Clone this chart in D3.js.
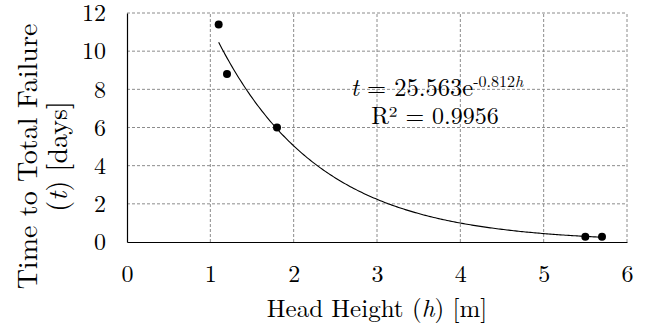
<!DOCTYPE html>
<html><head><meta charset="utf-8">
<script src="https://cdn.jsdelivr.net/npm/d3@7"></script>
<style>body{margin:0;background:#fff}svg{display:block}text{font-family:"Latin Modern Roman","CMU Serif","Liberation Serif","DejaVu Serif",serif;fill:#000}</style>
</head><body><svg id="c" width="647" height="329"></svg>
<script>
const headHeight = [1.1, 1.2, 1.8, 5.5, 5.7];
const failureDays = [11.4, 8.8, 6.0, 0.28, 0.28];
const xTicks = [0,1,2,3,4,5,6];
const yTicks = [0,2,4,6,8,10,12];
const fitA = 25.563, fitB = -0.812;
const fitRange = [1.1, 5.7];

const svg = d3.select("#c");
const m = {l:127, r:20, t:13, b:87};
const W = 647, H = 329;
const x = d3.scaleLinear().domain([0,6]).range([m.l, W-m.r]);
const y = d3.scaleLinear().domain([0,12]).range([H-m.b, m.t]);

const g = svg.append("g");
g.selectAll(".vg").data(xTicks.slice(1)).join("line")
 .attr("x1",d=>x(d)).attr("x2",d=>x(d)).attr("y1",y(0)).attr("y2",y(12))
 .attr("stroke","#8c8c8c").attr("stroke-width",1).attr("stroke-dasharray","3,2");
g.selectAll(".hg").data(yTicks.slice(1)).join("line")
 .attr("x1",x(0)).attr("x2",x(6)).attr("y1",d=>y(d)).attr("y2",d=>y(d))
 .attr("stroke","#8c8c8c").attr("stroke-width",1).attr("stroke-dasharray","3,2");

const xa = svg.append("g").attr("transform",`translate(0,${y(0)})`)
 .call(d3.axisBottom(x).tickValues(xTicks).tickSize(0).tickPadding(23).tickFormat(d3.format("d")));
const ya = svg.append("g").attr("transform",`translate(${x(0)},0)`)
 .call(d3.axisLeft(y).tickValues(yTicks).tickSize(0).tickPadding(21).tickFormat(d3.format("d")));
[xa,ya].forEach(a=>{a.select(".domain").attr("stroke","#000").attr("stroke-width",1.2);
 a.selectAll("text").attr("font-size",24).style("font-family",'"Latin Modern Roman","CMU Serif","Liberation Serif",serif');});

const fx = d3.range(fitRange[0], fitRange[1]+1e-9, 0.02);
const line = d3.line().x(d=>x(d)).y(d=>y(fitA*Math.exp(fitB*d)));
svg.append("path").datum(fx).attr("d",line).attr("fill","none").attr("stroke","#000").attr("stroke-width",1.1);

svg.selectAll(".pt").data(headHeight).join("circle")
 .attr("cx",d=>x(d)).attr("cy",(d,i)=>y(failureDays[i])).attr("r",4).attr("fill","#000");

const eq = svg.append("text").attr("x",437).attr("y",96).attr("text-anchor","middle").attr("font-size",24.5);
eq.append("tspan").attr("font-style","italic").text("t");
eq.append("tspan").text(" = 25.563e");
const sup = eq.append("tspan").attr("dy",-9).attr("font-size",16);
sup.append("tspan").text("-0.812");
sup.append("tspan").attr("font-style","italic").text("h");
svg.append("text").attr("x",435).attr("y",124).attr("text-anchor","middle").attr("font-size",24).text("R² = 0.9956");

const xt = svg.append("text").attr("x",x(3)).attr("y",317).attr("text-anchor","middle").attr("font-size",25);
xt.append("tspan").text("Head Height (");
xt.append("tspan").attr("font-style","italic").text("h");
xt.append("tspan").text(") [m]");

const yt = svg.append("g").attr("transform",`translate(0,${(20+293)/2}) rotate(-90)`);
yt.append("text").attr("x",0).attr("y",37).attr("text-anchor","middle").attr("font-size",28).text("Time to Total Failure");
const yt2 = yt.append("text").attr("x",0).attr("y",67).attr("text-anchor","middle").attr("font-size",28);
yt2.append("tspan").text("(");
yt2.append("tspan").attr("font-style","italic").text("t");
yt2.append("tspan").text(") [days]");
</script></body></html>
